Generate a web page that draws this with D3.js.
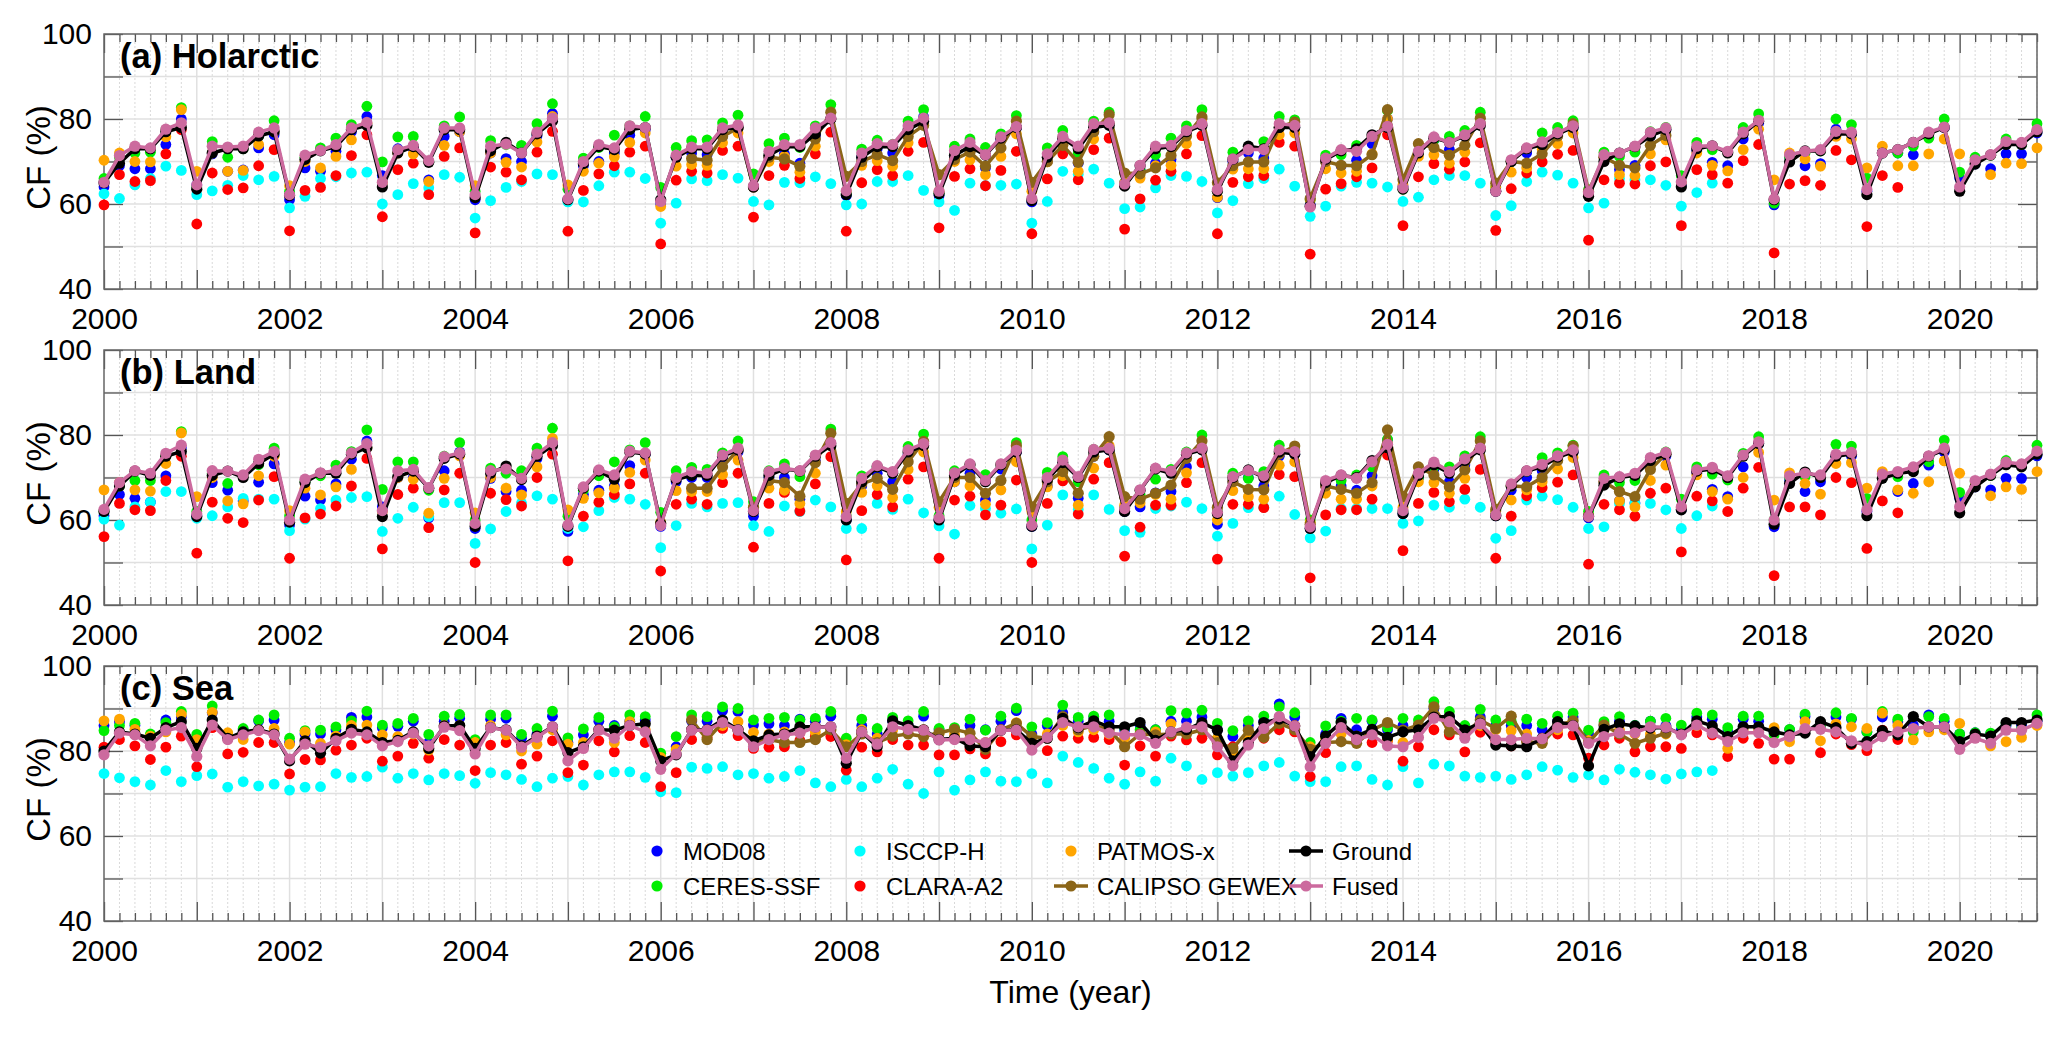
<!DOCTYPE html>
<html>
<head>
<meta charset="utf-8">
<script src="https://cdn.jsdelivr.net/npm/d3@7"></script>
<style>
  body { margin: 0; background: #fff; }
  svg { display: block; }
  text { font-family: "Liberation Sans", Arial, sans-serif; }
</style>
</head>
<body>
<svg id="chart" width="2067" height="1041"></svg>
<script>
// bi-monthly cloud fraction, 6 values per year from 2000.0, index i -> 2000 + i/6
var startYear = 2000;
var nPoints = 126;
var yearTicks = d3.range(2000, 2021);
var yTicks = [40, 50, 60, 70, 80, 90, 100];

// ---- (a) Holarctic ----
var aMOD08 = [64,69,68.3,68.3,74,80, 64.5,71.8,67.7,68,73.2,76.3, 61,68.5,67.7,72.4,77,80.6, 66.7,73,73,65.7,75.9,77, 61,72,70.7,70,76,81.3, 61,69,70,72,76.2,77.5, 60,71,72,71.6,76,78, 64,71,71.8,69.6,76,80, 62,71,73,72,77,80.5, 62,71,73,68.5,75,78, 60.5,70,75,69.6,77,79, 65,68,69.6,70.5,77,80, 61.5,70,72,70.8,78,78, 59.8,70,69,70.3,74.2,80, 64.2,72,75,72.8,76,79, 63,70,72,73.8,76,78, 62,71,68.1,69.1,76,77.5, 64.5,72.5,69.8,69,75.3,79, 59.8,71,69,69.5,77.6,76.5, 63,72,72,71.6,75.7,78, 66.1,69.4,68.3,71.8,71.8,76.7];
var aCERES = [66,71,72,72.2,77.5,82.7, 64,74.7,71,73,76,79.6, 63,71,73.2,75.5,78.7,83, 69.9,75.8,75.9,70,78.4,80.5, 63,74.9,74,73.8,78.9,83.6, 63.5,70.8,73.3,76.2,78.4,80.6, 63.9,73.3,74.9,75.1,79.1,80.9, 67.1,74.2,75.5,73.3,78.4,83.4, 62.5,72.9,75,74,79.5,82.2, 62.5,73.6,75.3,73.3,76.5,80.8, 61,73.2,77.3,72,79.5,81.6, 65,68,71.6,75.5,78.4,82.2, 63,72.2,73,74.7,80.6,79.8, 61,71.5,71.6,73.8,76,82, 63.5,72,75,75.9,77.3,81.6, 64,70,73,76.7,78,79.6, 63.4,72.2,71.2,72.2,77,78, 66.7,74.5,72.8,72.2,78,81.2, 60.2,71,72,72.5,80,78.7, 66.1,72,72,73.6,75.5,80, 67.5,71,71.5,75.3,74,78.9];
var aISCCP = [62.4,61.3,64.5,66,68.9,67.9, 62.2,63.1,64.4,66.7,65.7,66.5, 59.1,61.8,66,66.4,67.3,67.5, 60,62.2,64.8,63.8,66.9,66.3, 56.7,60.8,63.9,65.3,67.1,66.9, 60.5,60.5,64.3,67.5,67.5,66, 55.5,60.2,65.9,65.5,66.9,66.1, 60.6,59.8,65.1,65,66.4,64.8, 59.8,60,65.3,65.3,66.7,63.2, 60.5,58.5,64.9,64.3,64.4,64.7, 55.5,60.6,67.7,67,68.2,64.9, 58.9,59.3,63.8,66.7,66.5,65.3, 57.9,60.8,64.8,66,68.2,64.2, 57.1,59.5,64.2,65.1,64.9,64, 60.6,61.6,65.7,66.7,66.7,64.9, 57.3,59.6,65.3,67.5,66.8,64.9, 59.1,60.2,66,65.7,65.7,64.4, 59.5,62.7,64.9];
var aCLARA = [59.8,66.9,65.3,65.5,71.8,77.5, 55.3,67.3,63.4,63.8,69,72.8, 53.7,63.2,63.9,66.7,71.4,76.3, 57,68.1,69.6,62.2,71.2,73.2, 53.2,68.7,67.5,65.7,72.2,77.1, 53.6,63.2,67.1,69,72.2,73.6, 50.6,65.6,67.7,67.3,72.6,73.6, 56.9,66.7,69.1,66,71.8,76.9, 53.6,65,68.1,66.7,72.4,74.5, 54.4,66.5,68.3,64.3,67.9,72.4, 53,65.9,71.8,65.7,72.8,75.5, 54.1,61.2,65.6,67.7,71.8,76.1, 53,65.1,66.4,66.7,74.5,73.6, 48.2,63.5,64.8,66.4,68.5,76.3, 54.9,66.4,69.5,68.2,69.9,74.4, 53.8,63.6,67.3,69.9,71.7,72.6, 51.5,65.7,64.9,64.7,69,69.9, 54.9,68.1,66.9,64.9,70.2,74, 48.5,64.7,65.5,64.4,72.6,70.4, 54.7,66.7,63.9];
var aPATMOS = [70.3,72,70,69.9,75.8,82.2, 67.7,72,67.7,67.9,74,77, 64.3,70,68.5,71.2,75.1,79, 65,72,71.8,65.3,73.8,77, 64.3,72,69.8,68.7,74.6,80.6, 64.5,67.7,69.6,71.1,74.5,76.7, 59.4,68.9,69.3,69.1,74.4,76.7, 64,70,71.2,67.5,73.6,80, 63,69.1,70.2,68.9,74.4,79, 63,70,70.4,66.9,71.2,76.5, 63,69.9,74,67.7,75.3,79, 65,66.1,69,69.1,74.2,80, 61.6,68.2,68.3,68.3,76.3,76.7, 61,68.3,67.3,67.7,71.8,80, 64.5,71.2,71.6,69.6,72.2,79, 64,67.5,68.5,72.9,74.2,76.7, 62,71,66.9,66.7,71.8,75.1, 65,72,69.1,67.8,72.8,77.6, 65.7,72,70.6,68.9,75.9,75.3, 68.5,73.6,69,69,71.8,75.3, 71.8,70,66.9,69.6,69.5,73.2];
var aCALIPSO = [70.7,70.3,75.9,77.9, 64,71,70.6,68.9,75.3,81.6, 66.5,70,71.6,70.2,75.9,78.5, 66.9,70.5,72.2,68.9,73.2,79.5, 65.1,70,73.8,69.8,77,81, 67.3,67.1,68.5,71.4,76,80.5, 65,69,69.9,69.9,78,79.3, 61.3,70,69.1,69,71.6,82.2, 65.7,74.2,73.3,71.5,73.8,80.2, 64.9,70,69.6,71.8,76,78.9, 63,71,69.1,68.5,73.8,76.1];
var aGround = [65,69.6,73,73,77,78, 63.5,72,73,73,76,77, 62,70.5,72.5,73.5,77.5,78.5, 64,72,73.5,69.8,77.5,77.5, 61.5,72.5,74.5,72,76.5,79.5, 61,69.5,73.5,72.8,77.5,78, 61,71,73,73,77.5,78, 64,71.5,73.5,73.5,76.5,80, 62.2,71,73.5,73.5,77.5,79.5, 62.4,71.5,73.5,71.5,75.5,78, 60.8,71,75.5,73,78,78.5, 64.2,69,73,73.5,77,78.5, 63,70.5,73.6,73,78,78, 59.5,70.5,72.5,73,76.3,78, 63.5,72,75.5,74.5,76,78.5, 63,70,73,74,76.5,78, 61.8,70,72,73.5,76,77.5, 64,73,73.7,72,76.5,79.5, 61,69.9,72.5,72.5,76.5,76.5, 62.2,72,72.8,74.5,76.5,78, 63,69.4,71.5,74,74,77];
var aFused = [65.1,71.4,73.6,73.2,77.6,79.1, 64.5,73.6,73.4,73.6,76.9,77.9, 62.2,71.5,72.6,74,77.9,79.2, 65.1,72.8,73.8,70.2,77.9,77.9, 62.2,73.6,74.1,72,76.9,80.2, 61.2,70,74,73.2,78.4,78, 60.6,71.5,73.4,73.4,77.9,78.6, 64.3,72.4,74,74,77.9,80.2, 63.1,72,74.2,74,78.4,80.2, 63,72.6,74.5,71.6,75.8,78.2, 61.3,71.8,75.9,73.6,78.9,79.1, 64.7,69.1,73.6,73.8,77.3,78.9, 63.4,70.6,72.8,72.8,78.9,78.5, 59.3,70.8,72.8,72.4,75.9,78.3, 63.8,72.4,75.8,74.5,76.3,78.9, 63,70.4,73.2,74.6,76.8,78.4, 62.7,71.6,72,73.6,76.9,77.9, 65.2,73.6,73.7,72.4,76.9,79.7, 61.2,71.6,72.4,72.8,77.1,76.9, 63.4,72,72.8,74.5,76.9,78.1, 64,70.4,71.6,74.7,74.5,77.5];

// ---- (b) Land ----
var bMOD08 = [61,66,65.1,64.2,70.4,77, 61,68.8,67,64.5,68.9,73.2, 58.8,65.6,64.7,68.5,74.3,78.6, 63.1,70,70,60.5,71.6,76, 58,69.8,66.7,67,74.5,78, 57.3,66,67,68,72.8,75.5, 58.5,69,70,70,74.5,76, 60.9,70,70,64.9,74,78, 60,68,71,69,75.5,78, 60,69,71,64.7,72,76, 58.5,68,73,65.1,75,76.5, 62,63.1,66.4,66.7,72.5,77, 59,69,70,68,75,75.5, 58,68,68,67,70.4,78.8, 61.5,70,72,69,73,77, 61,67,70,71.6,74.5,76, 60.5,69,64.5,64,74,75, 62.5,71,67.2,65.5,72.5,78, 58.4,69.4,66.7,69,75,75, 62,70,66.7,68.6,72.9,76, 65.1,67.8,67.1,69.8,69.8,75.1];
var bCERES = [62,68,69.3,69.3,75,80.8, 62,71,68.6,70.5,73,76.9, 61,69,70.4,72.9,76.1,81.2, 67.2,73.7,73.7,67,75,78.2, 60,72.2,71,71.6,76.9,81.6, 60.9,67,70.4,73.7,76.5,78.2, 61.8,71.6,72.4,71.9,75.8,78.6, 64.3,71.6,73.2,70.2,75,81.4, 61,70.4,72.5,71,77.3,80.2, 61,71.6,73,70.7,73,78.2, 60,71.2,74.9,69,76.6,77, 63,66,69.6,71.9,76,80, 62,71,69.8,71.4,77.6,76.5, 60,69,69.3,70.6,72.5,79, 62,70,72.5,72.5,75.1,79.6, 61.5,68,71.5,74.7,75.8,77.6, 62,70.6,68.8,69.3,74.5,76, 64.9,72.5,70.8,69.4,75.7,79.6, 60,70,70.2,70.5,77.8,77.4, 65.1,70,70.2,71.5,73.7,78.8, 66.5,69,70.5,74,73,77.6];
var bISCCP = [60.2,58.8,63.1,64.2,66.7,66.7, 60.4,61,63.1,65.1,64.9,64.9, 57.5,60.2,62.7,64.7,65.3,65.5, 57.3,60.4,63,60.8,64.1,64.1, 54.5,57.9,62,64,65.7,64.9, 58,58.4,62.2,65.3,64.9,63.7, 53.5,58.7,63.9,63.1,63.9,64.1, 58.7,57.3,63.3,62,64.7,63.1, 58,58,63.9,62.5,64.9,61.7, 58.6,56.7,63.4,62.7,61.6,62.6, 53.2,58.8,65.9,62.5,65.9,62.5, 57.5,57.1,62.7,63.3,64.2,62.7, 56.2,59.2,62.9,63,65.6,61.3, 55.8,57.4,62.7,62.7,62.7,62.7, 59.2,59.8,63.5,63,64.9,63, 55.7,57.5,64.7,65.6,64.8,63, 58,58.4,63.9,63.9,63.9,62.4, 58,61,63.3];
var bCLARA = [56.1,63.9,62.4,62.2,69.3,75, 52.2,64.2,60.4,59.4,64.7,70.2, 51,60.5,61.4,63.3,68,74.5, 53.2,66,67.5,58.2,67.1,71, 50,66.3,64.8,63.3,70,75.5, 50.4,60.9,64.2,66,68.5,71, 48,63.7,64.9,63.7,68.8,71, 53.6,63.9,66.5,62.1,68.5,74.9, 50.6,62.2,66,63.1,69.6,72.5, 51,64.7,65.6,61.2,63.5,69.4, 50,63.9,69.2,61.4,69.6,73.5, 51.5,58.3,63.5,63.5,68.8,73.5, 50.8,63.7,63.7,62.9,70.7,70.2, 46.4,61.2,62.4,62.4,64.9,75.3, 52.8,63.9,66.5,64.3,67.2,71.9, 51,60.9,65.7,67.6,68.9,70.6, 49.6,63.7,62.4,60.9,66.3,67.5, 52.5,65.6,64.5,62,67.5,72.4, 46.9,63.1,63.1,61.2,70,68.8, 53.3,64.5,61.7];
var bPATMOS = [67.1,68.8,67.1,66.8,73.3,80.5, 65.5,70,64.5,63.8,70.4,75, 62.2,67.5,65.9,67.8,71.9,77, 62,70,69.6,61.6,69.8,75.1, 61.7,70,67.5,65.9,72.5,79.2, 62.4,65.1,66.4,67.5,71.2,74.1, 59.5,66.9,66.7,66.7,70.7,74.1, 63,67.5,67,63.9,71,78, 62,66.5,68.1,65.3,71.9,76, 63,69,68,63.7,67.1,73.7, 62,67.8,70.4,63.5,72.2,77.5, 63.5,64,66,64.9,71.1,77, 60,66.9,65.5,64.9,72.9,73.7, 59.5,66.3,64.9,64.9,68,78, 63,69,68.8,66.3,69.8,77, 62,64.7,67.1,69,72,74.7, 61,69,64.5,63.1,69.3,72.9, 63,70.6,66.7,64.9,70,75.9, 64.7,71.1,68.6,66.1,73.3,73.5, 67.5,71.4,67.1,66.3,69,73.9, 71,68,65.7,67.8,67.2,71.4];
var bCALIPSO = [67.5,67.5,72.5,76.5, 63,69.3,68.8,65.6,73.5,80.4, 63.9,68.5,69.8,67.2,73.7,78.5, 64.3,70,70,66.3,69.3,77.5, 63.1,69,71.4,66.3,75,79.6, 65.5,64.9,66.3,68.2,74.5,78.6, 63,69,67.2,67.1,75.5,77.4, 59,68,67.2,66.3,68.8,81.2, 65.5,72.5,70.6,67.8,71.8,78.6, 62.5,68,67.8,70,74,77.4, 61,69,66.7,65.5,71.9,75.5];
var bGround = [62,68,71.5,70.5,75,76.1, 60.8,70.5,71.5,70,73.3,75.5, 59.5,68.8,71,71,75.5,77, 60.8,70.2,71.5,67.5,74.5,75.5, 58.5,71,72.7,69.5,75,77.5, 58.5,67.5,71.5,69.6,76,75.5, 59.2,69.5,70.5,70.5,75,76.5, 62,70.5,72,71.5,75,77.5, 60,69,72.5,71,76,77.5, 60,70.5,73,69,73,76, 58.5,69.5,73.5,70,76,76.5, 62,67,72,71,75.5,76.5, 61.5,70,71.8,70,76,75.5, 58,68.8,70.5,70,74,77, 61.5,70.5,73,71,74,76.5, 61,68,71.5,72.5,74.8,76, 60.8,68.2,70,70.5,74,75.5, 62.4,71.5,72,70,75,78, 59,68.6,71.3,70,75,75.5, 61,69.8,71,71.4,75,76.5, 61.7,67.8,70.5,73,72.5,75.5];
var bFused = [62.5,68.8,71.6,71,75.7,77.6, 61.4,71.6,71.5,70.6,74.3,76.1, 60,69.6,71.1,71.6,75.8,78, 62.2,71.6,71.9,67.6,74.9,75.8, 59.2,71.6,72,69.8,75.5,78.2, 58.8,67.8,71.8,70.6,76.2,75.8, 58.7,70,71.4,71,75.3,76.9, 62.2,71.4,72.2,71.6,75.3,78.2, 60.8,69.8,72.8,71.4,76.5,78, 60.5,71.1,73.2,69.3,73.2,76.4, 58.8,70,74.1,70.2,76.6,76.9, 62.7,67.1,72.2,71.5,75.8,76.9, 61.8,70.2,71.6,70.4,76.5,76.1, 58.4,69.3,70.6,69.8,73.7,77.8, 62.2,71,73.6,71.4,74.4,76.9, 61.2,68.5,71.6,73.1,75.1,76.5, 60.8,69.8,70.2,71,74.7,75.9, 63.1,71.8,72.4,70.4,75.3,78.4, 60,70.4,71,70.6,75.5,75.9, 62.4,70.8,71.4,72.5,75.1,76.9, 63.1,69.3,70.8,73.6,73.2,76.2];

// ---- (c) Sea ----
var cMOD08 = [86,86.9,86,83.5,87.3,88, 83,89,83.5,85,87.1,87.3, 82,84,84,85,87.9,88, 85.5,85.8,87,82,87,87.7, 82,87.5,87.7,83,84,88.2, 82,83.8,87,86,87,87.3, 78,81,87,87,89.5,89.3, 86.1,86.4,86,87.5,87,88.2, 81,86,84,87,86,88.2, 85,85,86,85,87,89.5, 84,86,89,87,88,87, 85,86,85,87,87,88, 85,83.4,86,87,91.1,88, 80,84,87.7,85,87,85, 86,86,90,88,85,88, 86,86,86,85,87,88, 84,86,87,86,87,86, 85,88,87.5,84.5,87.5,87, 84.5,85,88.1,86,88,87.5, 84.5,88,86.9,86.1,88.5,87, 84,84.3,84,86,86,87];
var cCERES = [84.8,86,86.5,84,86.7,89.3, 83.9,90.6,84,85.3,87.3,88.5, 83,84.8,84.9,85.7,87.1,89.4, 86.1,86.5,87.7,83.9,88.2,88.6, 82.7,88.5,88.5,83.9,85.3,89.4, 83.1,85.2,87.9,85.7,88.5,88.1, 79.5,83.4,88.5,88.1,90.4,90, 87.3,87.7,87.9,87.3,87.7,89.3, 83,87.5,85.3,87.9,87.1,89.3, 85.3,85.5,87.5,84.9,88.2,90.1, 85.7,86.7,90.8,87.9,88.2,88.5, 85.5,85,85,89.5,88.9,89.6, 86.5,84.8,87.1,88.2,90.4,89, 82,85.9,87,87.7,87.3,85.5, 87.7,87.3,91.6,89.3,86,89.8, 87.3,87,87.5,86.5,88.2,88.9, 84.9,86.9,88.1,86,87,87.7, 86.1,88.9,88.5,85.5,88.2,88.2, 83.8,85.1,88.7,86,89,87.7, 84.5,89.3,87.5,84.5,88.1,87.7, 84,84.3,84.2,86.5,85.3,88.5];
var cISCCP = [74.7,73.7,72.8,72,75.4,72.8, 74.2,74.6,71.5,72.8,71.8,72.2, 70.8,71.5,71.6,74.7,73.8,74, 76.2,73.6,74.7,73.2,74.7,74.2, 72.4,74.9,74.4,73.3,71.6,73.6, 74,72,74.4,75.1,75.1,73.8, 70.4,70.2,76.2,75.9,76.3,74.4, 74.7,73.6,74,75.4,72.5,71.6, 73.3,71.6,73.6,75.7,72.2,70, 75.1,70.8,73.2,75.1,72.9,72.8, 74.7,72.5,78.8,77.3,75.9,73.6, 72.2,75.1,72.9,78.3,76.5,73.3, 74.9,74.1,74.9,76.5,77.3,74.1, 72.8,72.8,76.3,76.5,73.3,72, 76.3,72.5,76.9,76.5,74.1,73.8, 74.1,73.3,74.4,76.3,75.5,73.8, 74.4,73.2,75.7,75,74.4,73.4, 74.6,75.1,75.4];
var cCLARA = [80.9,82.7,81.2,78,80.9,83.5, 76.3,85.5,79.3,79.7,82,82, 74.6,78,77.9,80.2,81.4,83, 77.6,78.8,81.8,78.3,82.7,81.4, 75.4,81.4,82,76.9,78.8,82.4, 74.9,76.7,82.4,79.8,83.6,82, 71.6,74.9,82.7,83.2,85.3,83.6, 80.6,80.9,81,82.5,83.5,83.4, 75.5,80.9,79.8,82.7,81.4,81.4, 79.1,79.1,80.5,79.3,82.2,83.8, 82,80.1,83.5,83,83.2,82.7, 76.7,81.2,78.8,83.5,82.6,83, 79.1,81,82.5,83,85,84.5, 74,79.6,85,82.5,82,82.5, 77.6,81,85,83.8,79.8,84.4, 82.5,81.2,82.5,82.5,84,83.8, 78.3,81.4,83,79.8,81,81, 80.6,84.3,83.8,78.7,83,81.8, 78.1,78.1,85,79.6,84,81.5, 80.1,84.9,82.7];
var cPATMOS = [87.1,87.5,85.1,83.5,84.5,88.6, 82.7,89.1,84.3,82.7,85,85.3, 81.6,84.5,81.8,83.5,86,86.1, 83.8,83.4,84,80.2,86,86, 82,86,83.8,80,81.6,85, 81.6,82,85,82,86.9,85, 78.5,80.4,85,84,86,86.9, 84.4,84,84.5,84.3,84.5,85, 81.5,85,83,85,85,85, 84,84,83,82,85,86.7, 83,84,86,84.5,85,84, 83,84,84.5,86.4,85,86, 83,80,83,85,87,86, 81,83,84,83.5,84,82.7, 82,85,88,86,84,86, 85,84.8,84,83,85,86, 82.5,85,85,84,84,84, 84,86,85,80.6,85,85, 85.5,82.2,86.9,82.4,86.4,85.7, 85.3,88.9,86,82.6,84.5,85, 86.5,83.5,81.2,82.2,83.2,86];
var cCALIPSO = [87.3,82.7,86.7,85, 82,82.7,82,82,82.7,85, 81,84,82,83.5,84,83.4, 84.3,85.1,84.2,80.4,85,86.5, 83.4,83,88.1,85,86,85, 81,84,83.8,84,84,85, 82,80.6,84.9,83.2,86.5,85, 80.4,82,82.2,81.8,84.9,86.7, 84.9,86.1,90.4,84.5,84,87.3, 85.3,88.2,82.2,81.8,86,87.1, 82,86.1,84,81.8,83,84.2];
var cGround = [80,84.5,84,83,85.5,86.9, 80.6,87.3,83,84.5,85,84, 77.7,82.4,79.5,83,85.1,84.5, 82,82.5,84.5,80.6,85.9,86, 80.6,85.5,85,81.2,83.5,85.7, 79.6,81,85,84.9,86,86.4, 77.7,79.1,85,85,87.3,85, 82.4,83.8,84,85.7,85.7,85.7, 77.1,84.5,81,87.1,86,85, 82.7,83,81.2,81,84.9,85, 81.8,83,87.7,85.5,87.1,85.7, 85.7,86.7,82.5,84.5,85,86.7, 84.9,77.7,82,86.7,87.5,85.9, 78.7,83.5,86.7,83.5,85.1,83.2, 84.5,85,88,88.1,85,86.5, 81.4,81.2,81,83,86.9,86, 76.5,85.1,86.4,85.9,85.4,85.5, 84,87.1,85.9,83.4,85.7,85.7, 84.5,83.8,84.2,86.9,85.5,81.8, 82.2,84.8,83.8,88.1,85.7,85.7, 82.2,84,83.5,86.7,86.7,87.3];
var cFused = [79.1,84.2,83.8,81.2,84.9,85.5, 78.7,86.1,82.7,83.8,84.8,83.8, 78.1,81.6,80.9,82.4,84.2,83.8, 81.2,82.2,84.2,81.2,85.6,84.8, 79.3,85.5,84.9,80.9,83.2,85.7, 77.7,80.6,84.9,83,86,84.5, 75.7,79.3,84.9,84.9,86.7,84.9, 81,82.7,83.8,84.2,85.6,85.7, 78.3,84.5,81.6,85.7,85.1,84.9, 82.6,82.7,82.7,82,84.9,84.9, 80.2,83.2,86.7,85.7,85.7,84.2, 83.8,83.8,81.8,84.5,85.6,85.7, 81,76.5,81.4,85.3,88.1,85.9, 76.3,81.8,85.5,82.7,83.8,81.2, 81,83.2,87.7,86.9,83,86.4, 82.7,82.7,83,82.9,85.5,85.9, 81.8,83.4,84.3,84.3,85.7,85.6, 83.8,86.1,84.2,82.2,84.3,84.3, 82,83.4,85.3,85.1,84.5,82.4, 81.2,83.4,84.5,85.3,85.7,85.7, 80.4,83,81.8,84.9,84.9,86.5];

// product order = drawing order = legend order (column-major, 2 rows)
var products = [
  {key: 'MOD08',   label: 'MOD08',         color: '#0000ff', line: false, start: 0},
  {key: 'CERES',   label: 'CERES-SSF',     color: '#00ee00', line: false, start: 0},
  {key: 'ISCCP',   label: 'ISCCP-H',       color: '#00ffff', line: false, start: 0},
  {key: 'CLARA',   label: 'CLARA-A2',      color: '#ff0000', line: false, start: 0},
  {key: 'PATMOS',  label: 'PATMOS-x',      color: '#ffa500', line: false, start: 0},
  {key: 'CALIPSO', label: 'CALIPSO GEWEX', color: '#8b6518', line: true,  start: 38},
  {key: 'Ground',  label: 'Ground',        color: '#000000', line: true,  start: 0},
  {key: 'Fused',   label: 'Fused',         color: '#cc6a9e', line: true,  start: 0}
];

var panels = [
  {title: '(a) Holarctic', top: 34,
   data: {MOD08: aMOD08, CERES: aCERES, ISCCP: aISCCP, CLARA: aCLARA, PATMOS: aPATMOS, CALIPSO: aCALIPSO, Ground: aGround, Fused: aFused}},
  {title: '(b) Land', top: 350,
   data: {MOD08: bMOD08, CERES: bCERES, ISCCP: bISCCP, CLARA: bCLARA, PATMOS: bPATMOS, CALIPSO: bCALIPSO, Ground: bGround, Fused: bFused}},
  {title: '(c) Sea', top: 666,
   data: {MOD08: cMOD08, CERES: cCERES, ISCCP: cISCCP, CLARA: cCLARA, PATMOS: cPATMOS, CALIPSO: cCALIPSO, Ground: cGround, Fused: cFused}}
];

var svg = d3.select('#chart');
var left = 104, right = 2037, panelH = 255;
var x = d3.scaleLinear().domain([startYear, startYear + (nPoints - 1) / 6]).range([left, right]);
var minorTimes = d3.range(1, nPoints).filter(function(i) { return i % 6; }).map(function(i) { return startYear + i / 6; });

panels.forEach(function(p) {
  var bottom = p.top + panelH;
  var y = d3.scaleLinear().domain([40, 100]).range([bottom, p.top]);
  var g = svg.append('g');

  // grid
  var grid = g.append('g');
  grid.selectAll('line.minor').data(minorTimes).enter().append('line')
    .attr('x1', x).attr('x2', x).attr('y1', p.top).attr('y2', bottom)
    .attr('stroke', '#d9d9d9').attr('stroke-width', 1).attr('stroke-dasharray', '2,2');
  grid.selectAll('line.vmajor').data(yearTicks.slice(1)).enter().append('line')
    .attr('x1', x).attr('x2', x).attr('y1', p.top).attr('y2', bottom)
    .attr('stroke', '#e0e0e0').attr('stroke-width', 1.5);
  grid.selectAll('line.hmajor').data([50, 60, 70, 80, 90]).enter().append('line')
    .attr('x1', left).attr('x2', right).attr('y1', y).attr('y2', y)
    .attr('stroke', '#e0e0e0').attr('stroke-width', 1.5);

  // axes: inward ticks on all four sides
  var axes = g.append('g').attr('class', 'axes');
  axes.append('g').attr('transform', 'translate(0,' + bottom + ')')
    .call(d3.axisBottom(x).tickValues(minorTimes).tickSize(-8).tickFormat(''));
  axes.append('g').attr('transform', 'translate(0,' + bottom + ')')
    .call(d3.axisBottom(x).tickValues(yearTicks).tickSize(-19).tickPadding(19)
      .tickFormat(function(d) { return d % 2 === 0 ? d : ''; }));
  axes.append('g').attr('transform', 'translate(0,' + p.top + ')')
    .call(d3.axisTop(x).tickValues(minorTimes).tickSize(-8).tickFormat(''));
  axes.append('g').attr('transform', 'translate(0,' + p.top + ')')
    .call(d3.axisTop(x).tickValues(yearTicks).tickSize(-19).tickFormat(''));
  axes.append('g').attr('transform', 'translate(' + left + ',0)')
    .call(d3.axisLeft(y).tickValues(yTicks).tickSize(-19).tickPadding(12)
      .tickFormat(function(d) { return d % 20 === 0 ? d : ''; }));
  axes.append('g').attr('transform', 'translate(' + right + ',0)')
    .call(d3.axisRight(y).tickValues(yTicks).tickSize(-19).tickFormat(''));
  axes.selectAll('.domain').remove();
  axes.selectAll('.tick line').attr('stroke', '#555').attr('stroke-width', 1.3);
  axes.selectAll('.tick text').attr('font-size', 30).attr('fill', '#000')
    .attr('font-family', '"Liberation Sans", Arial, sans-serif');

  g.append('rect').attr('x', left).attr('y', p.top).attr('width', right - left).attr('height', panelH)
    .attr('fill', 'none').attr('stroke', '#666').attr('stroke-width', 1.5);

  // series
  var marks = g.append('g');
  products.forEach(function(s) {
    var vals = p.data[s.key];
    var pts = vals.map(function(v, i) { return {t: startYear + (s.start + i) / 6, v: v}; });
    if (s.line) {
      marks.append('path').datum(pts)
        .attr('fill', 'none').attr('stroke', s.color).attr('stroke-width', 3.5)
        .attr('stroke-linejoin', 'round')
        .attr('d', d3.line().x(function(d) { return x(d.t); }).y(function(d) { return y(d.v); }));
    }
    marks.selectAll(null).data(pts).enter().append('circle')
      .attr('cx', function(d) { return x(d.t); })
      .attr('cy', function(d) { return y(d.v); })
      .attr('r', s.line ? 5.6 : 5.4)
      .attr('fill', s.color);
  });

  g.append('text').attr('x', 120).attr('y', p.top + 34)
    .attr('font-size', 34.5).attr('font-weight', 'bold').text(p.title);

  g.append('text')
    .attr('transform', 'translate(50,' + (p.top + panelH / 2 - 4) + ') rotate(-90)')
    .attr('text-anchor', 'middle').attr('font-size', 33).text('CF (%)');
});

// legend inside panel (c)
var legX = [683, 886, 1097, 1332];
var legY = [851, 886];
var legend = svg.append('g');
products.forEach(function(s, k) {
  var col = Math.floor(k / 2), row = k % 2;
  var cx = legX[col] - 26, cy = legY[row];
  if (s.line) {
    legend.append('line').attr('x1', cx - 17).attr('x2', cx + 17).attr('y1', cy).attr('y2', cy)
      .attr('stroke', s.color).attr('stroke-width', 3.5);
  }
  legend.append('circle').attr('cx', cx).attr('cy', cy).attr('r', 5.6).attr('fill', s.color);
  legend.append('text').attr('x', legX[col]).attr('y', cy + 8.5)
    .attr('font-size', 24).text(s.label);
});

svg.append('text').attr('x', (left + right) / 2).attr('y', 1003)
  .attr('text-anchor', 'middle').attr('font-size', 32).text('Time (year)');
</script>
</body>
</html>
